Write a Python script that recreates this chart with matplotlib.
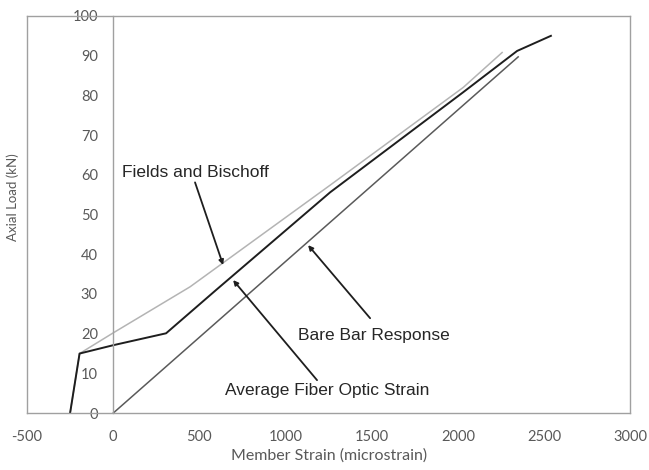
import matplotlib.pyplot as plt

# Datos
strain_fo = [-250, -195, 0, 307, 597, 1259, 2031, 2344, 2540]
load_fo = [0, 15, 17.1, 20.1, 31, 55.6, 80.8, 91.2, 95]

strain_fb = [-250, -195, 0, 446, 1259, 2031, 2257]
load_fb = [0, 15, 20.2, 31.8, 57.4, 82, 90.8]

strain_bare = [0, 2350]
load_bare = [0, 89.7]

xticks = [-500, 0, 500, 1000, 1500, 2000, 2500, 3000]
yticks = [0, 10, 20, 30, 40, 50, 60, 70, 80, 90, 100]

plt.rcParams['font.family'] = ['Lato', 'DejaVu Sans']
plt.rcParams['axes.unicode_minus'] = False

fig = plt.figure(figsize=(6.49, 4.70), dpi=100)
ax = fig.add_axes([0.0416, 0.121, 0.9294, 0.845])

gris = '#a0a0a0'
ax.plot(strain_bare, load_bare, color='#5a5a5a', linewidth=1.1)
ax.plot(strain_fb, load_fb, color='#b4b4b4', linewidth=1.1)
ax.plot(strain_fo, load_fo, color='#1e1e1e', linewidth=1.4)

ax.set_xlim(-500, 3000)
ax.set_ylim(0, 100)
ax.set_xticks(xticks)
ax.set_yticks(yticks)

for lado in ['top', 'right', 'bottom', 'left']:
    ax.spines[lado].set_color(gris)
    ax.spines[lado].set_linewidth(1.0)
ax.spines['left'].set_position(('data', 0))
ax.axvline(-500, color=gris, linewidth=1.0, clip_on=False)

ax.tick_params(axis='both', length=0, labelsize=10.5, labelcolor='#595959')
ax.tick_params(axis='y', pad=11)
ax.tick_params(axis='x', pad=12)

ax.set_xlabel('Member Strain (microstrain)', fontsize=11.5, color='#595959', labelpad=3)
fig.text(0.02, 0.58, 'Axial Load (kN)', rotation=90, fontsize=9.5,
         color='#595959', ha='center', va='center')

# Flechas y etiquetas
flecha = dict(arrowstyle='-|>', color='#1e1e1e', linewidth=1.3,
              mutation_scale=7, shrinkA=0, shrinkB=0)
ax.annotate('', xy=(638, 37.3), xytext=(475, 58.1), arrowprops=flecha)
ax.annotate('', xy=(1131, 42.3), xytext=(1491, 23.9), arrowprops=flecha)
ax.annotate('', xy=(696, 33.5), xytext=(1183, 8.3), arrowprops=flecha)

fuente = ['Liberation Sans', 'DejaVu Sans']
ax.text(51, 60.7, 'Fields and Bischoff', fontsize=12.5, family=fuente,
        color='#262626', ha='left', va='center')
ax.text(1514, 19.6, 'Bare Bar Response', fontsize=12.5, family=fuente,
        color='#262626', ha='center', va='center')
ax.text(1244, 5.8, 'Average Fiber Optic Strain', fontsize=12.5, family=fuente,
        color='#262626', ha='center', va='center')

fig.savefig('out.png', dpi=100)
